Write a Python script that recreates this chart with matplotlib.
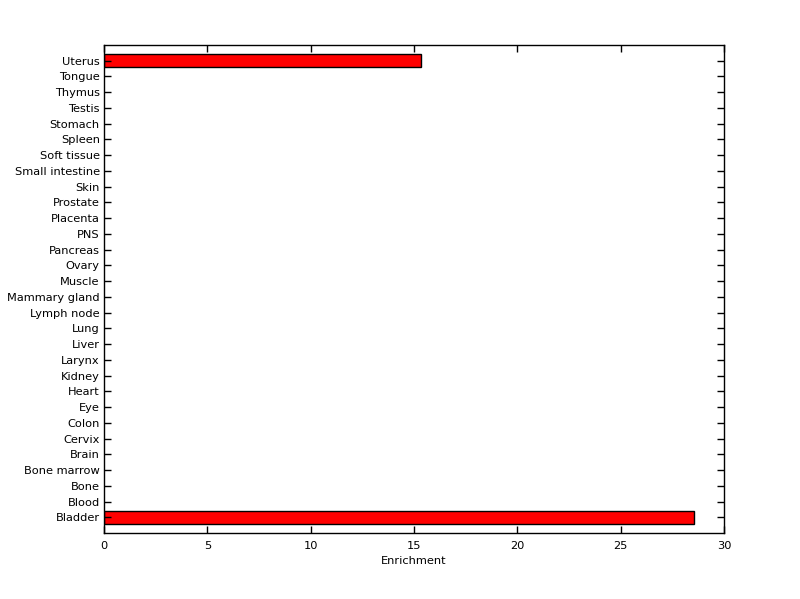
import matplotlib
matplotlib.use("Agg")
import matplotlib.pyplot as plt
import numpy as np

tissues = ["Bladder", "Blood", "Bone", "Bone marrow", "Brain", "Cervix", "Colon",
           "Eye", "Heart", "Kidney", "Larynx", "Liver", "Lung", "Lymph node",
           "Mammary gland", "Muscle", "Ovary", "Pancreas", "PNS", "Placenta",
           "Prostate", "Skin", "Small intestine", "Soft tissue", "Spleen",
           "Stomach", "Testis", "Thymus", "Tongue", "Uterus"]
enrichment = [28.53, 0, 0, 0, 0, 0, 0, 0, 0, 0, 0, 0, 0, 0, 0, 0, 0, 0, 0, 0,
              0, 0, 0, 0, 0, 0, 0, 0, 0, 15.35]
xticks = [0, 5, 10, 15, 20, 25, 30]

plt.rcParams['font.family'] = ['DejaVu Sans']
plt.rcParams['font.size'] = 8.2

fig = plt.figure(figsize=(8, 5.99), dpi=100)
ax = fig.add_axes([0.13, 0.11, 0.775, 0.815])

pos = np.arange(1, len(tissues) + 1)
vals = np.array(enrichment)
mask = vals > 0
ax.barh(pos[mask], vals[mask], height=0.85, color="#ff0000",
        edgecolor="black", linewidth=1)

ax.set_xlim(0, 30)
ax.set_ylim(0, len(tissues) + 1)
ax.set_xticks(xticks)
ax.set_yticks(pos)
ax.set_yticklabels(tissues)
ax.set_xlabel("Enrichment", labelpad=3)

ax.tick_params(direction="in", length=5, width=1, top=True, right=True,
               colors="black", labelsize=8.2)
ax.tick_params(axis="x", pad=6)
ax.tick_params(axis="y", pad=3)
for s in ax.spines.values():
    s.set_linewidth(1)

fig.savefig("out.png", dpi=100, facecolor="white")
